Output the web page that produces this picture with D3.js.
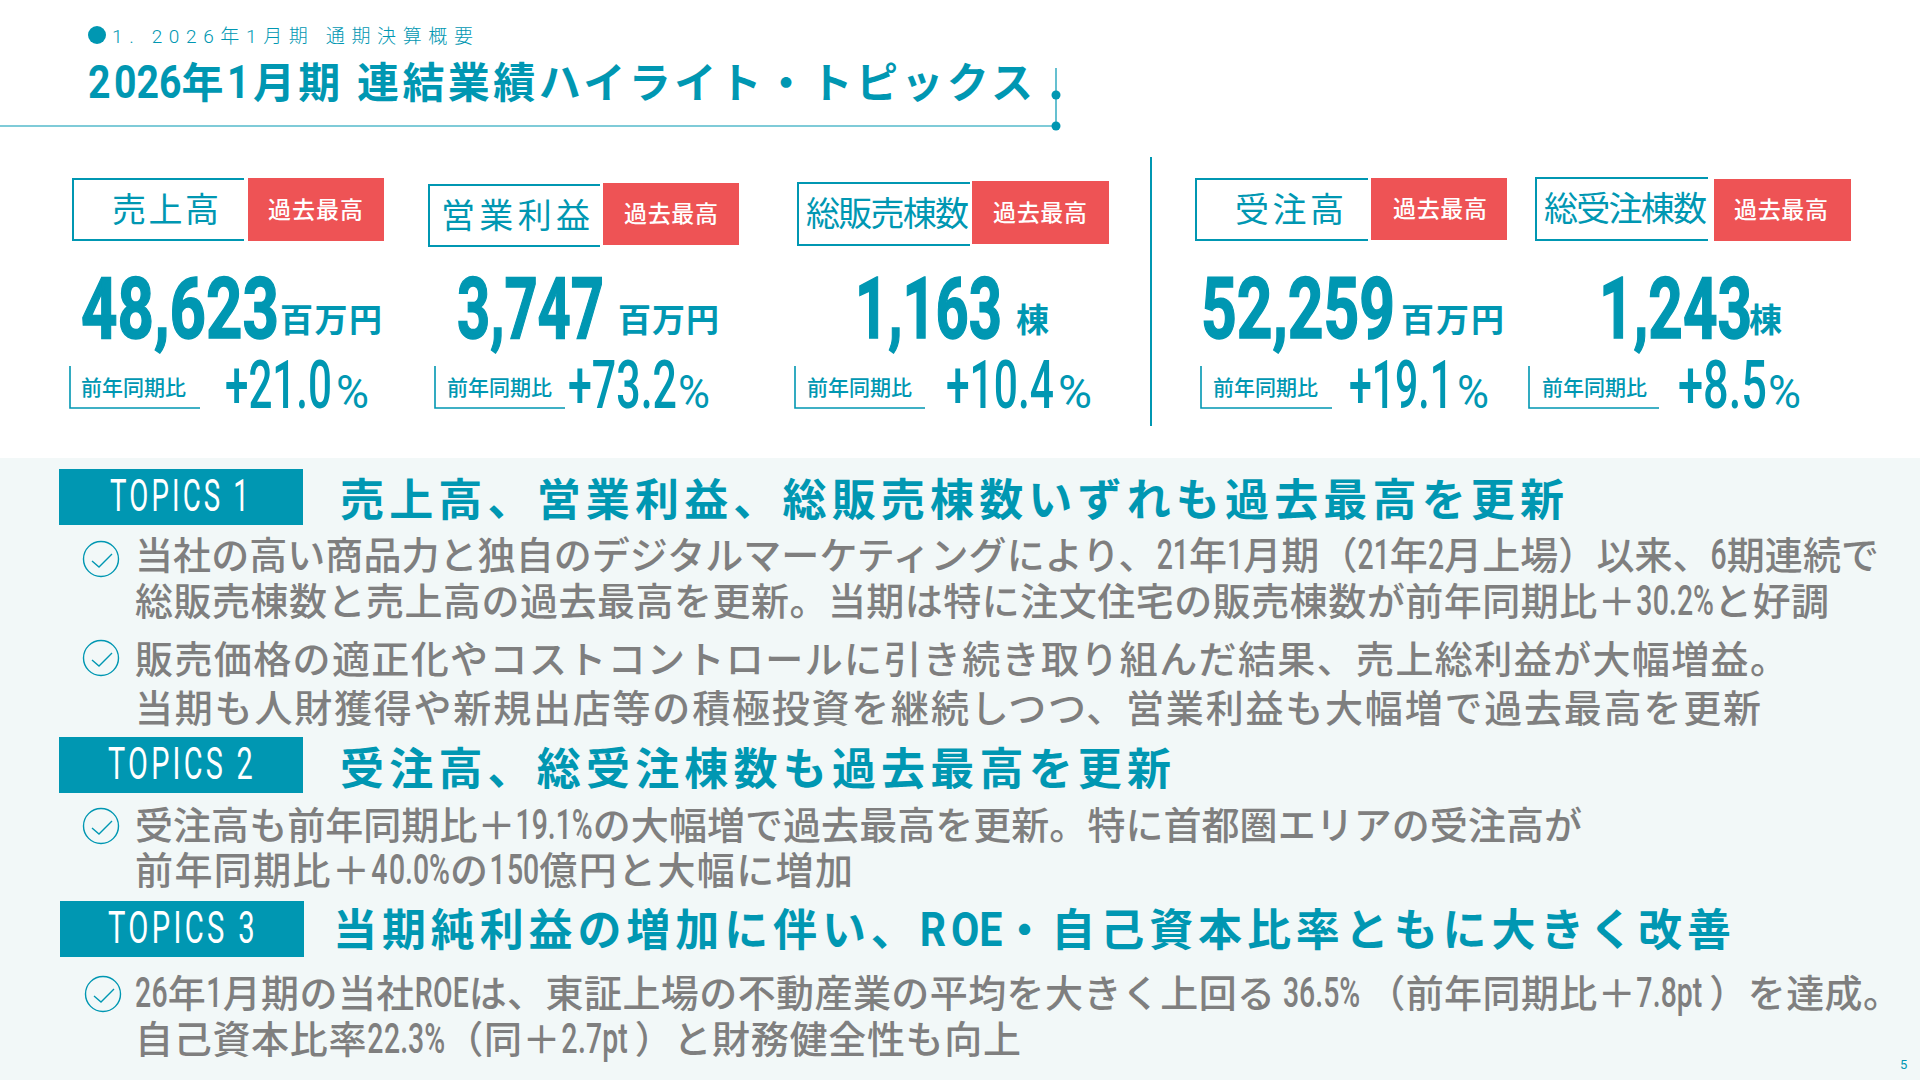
<!DOCTYPE html>
<html>
<head>
<meta charset="utf-8">
<script src="https://cdn.jsdelivr.net/npm/d3@7"></script>
<style>
  body { margin: 0; background: #fff; }
  svg { display: block; }
  text { white-space: pre; }
</style>
</head>
<body>
<svg id="slide" width="1920" height="1080"></svg>
<script>
const teal = '#0097b2';
const red = '#ee5355';
const gray = '#7f7f7f';
const panelColor = '#f2f8f8';
const latin = 'Roboto, "Noto Sans CJK JP", sans-serif';
const cjk = '"Noto Sans CJK JP", sans-serif';

// slide text and values
const sectionLabel = '1. 2026年1月期 通期決算概要';
const slideTitle = '2026年1月期 連結業績ハイライト・トピックス';
const bestLabel = '過去最高';
const changeLabel = '前年同期比';
const kpiLabels = ['売上高', '営業利益', '総販売棟数', '受注高', '総受注棟数'];
const kpiValues = [48623, 3747, 1163, 52259, 1243];
const kpiUnits = ['百万円', '百万円', '棟', '百万円', '棟'];
const kpiChanges = [21.0, 73.2, 10.4, 19.1, 8.5];
const topicNames = ['TOPICS 1', 'TOPICS 2', 'TOPICS 3'];
const topicTitles = [
  '売上高、営業利益、総販売棟数いずれも過去最高を更新',
  '受注高、総受注棟数も過去最高を更新',
  '当期純利益の増加に伴い、ROE・自己資本比率ともに大きく改善'
];
const bodyLines = [
  '当社の高い商品力と独自のデジタルマーケティングにより、21年1月期（21年2月上場）以来、6期連続で',
  '総販売棟数と売上高の過去最高を更新。当期は特に注文住宅の販売棟数が前年同期比＋30.2%と好調',
  '販売価格の適正化やコストコントロールに引き続き取り組んだ結果、売上総利益が大幅増益。',
  '当期も人財獲得や新規出店等の積極投資を継続しつつ、営業利益も大幅増で過去最高を更新',
  '受注高も前年同期比＋19.1%の大幅増で過去最高を更新。特に首都圏エリアの受注高が',
  '前年同期比＋40.0%の150億円と大幅に増加',
  '26年1月期の当社ROEは、東証上場の不動産業の平均を大きく上回る 36.5% （前年同期比＋7.8pt ）を達成。',
  '自己資本比率22.3%（同＋2.7pt ）と財務健全性も向上'
];
const pageNumber = '5';

// where things sit on the slide, one row per card
const cardBoxes = [
  { x0: 73, x1: 244, y0: 179, y1: 240, rx0: 248, rx1: 384, ry0: 178, ry1: 241 },
  { x0: 429, x1: 600, y0: 185, y1: 246, rx0: 603, rx1: 739, ry0: 183, ry1: 245 },
  { x0: 798, x1: 970, y0: 183, y1: 245, rx0: 972, rx1: 1109, ry0: 181, ry1: 244 },
  { x0: 1196, x1: 1368, y0: 179, y1: 240, rx0: 1371, rx1: 1507, ry0: 178, ry1: 240 },
  { x0: 1536, x1: 1708, y0: 178, y1: 240, rx0: 1714, rx1: 1851, ry0: 179, ry1: 241 }
];
const cardText = [
  { lx: 112, lw: 107, bx: 268, bw: 95, nx: 81, nw: 198, ux: 280, uw: 102 },
  { lx: 441, lw: 149, bx: 624, bw: 94, nx: 457, nw: 147, ux: 618, uw: 101 },
  { lx: 806, lw: 163, bx: 993, bw: 94, nx: 855, nw: 147, ux: 1016, uw: 33 },
  { lx: 1235, lw: 109, bx: 1393, bw: 94, nx: 1201, nw: 194, ux: 1401, uw: 103 },
  { lx: 1544, lw: 163, bx: 1734, bw: 94, nx: 1599, nw: 153, ux: 1749, uw: 32 }
];
const changeText = [
  { bx0: 70, bx1: 200, tx: 81, vx: 225, vw: 107, px: 336, pw: 33 },
  { bx0: 435, bx1: 565, tx: 447, vx: 568, vw: 109, px: 678, pw: 32 },
  { bx0: 795, bx1: 925, tx: 807, vx: 946, vw: 108, px: 1058, pw: 34 },
  { bx0: 1201, bx1: 1332, tx: 1213, vx: 1349, vw: 104, px: 1457, pw: 32 },
  { bx0: 1529, bx1: 1659, tx: 1542, vx: 1678, vw: 89, px: 1768, pw: 33 }
];
const topicRows = [
  { x: 59, y: 469, tx: 110, tw: 142, hx: 340, hw: 1224, hy: 516 },
  { x: 59, y: 737, tx: 108, tw: 148, hx: 340, hw: 831, hy: 785 },
  { x: 60, y: 901, tx: 108, tw: 150, hx: 333, hw: 1398, hy: 946 }
];
const bodyRows = [
  { w: 1744, y: 569 },
  { w: 1694, y: 615 },
  { w: 1653, y: 673 },
  { w: 1626, y: 722 },
  { w: 1447, y: 839 },
  { w: 718, y: 884 },
  { w: 1766, y: 1007 },
  { w: 886, y: 1053 }
];
const checkMarks = [[101, 559], [101, 658], [101, 826], [103, 994]];

const formatValue = d3.format(',');
const formatChange = d3.format('+.1f');

const svg = d3.select('#slide');

// text fitted to the width it has in the slide
function addText(parent, str, x, y, size, opts = {}) {
  const t = parent.append('text')
    .attr('x', x)
    .attr('y', y)
    .attr('font-size', size)
    .attr('font-family', opts.family || cjk)
    .attr('font-weight', opts.weight || 400)
    .attr('fill', opts.fill || teal);
  // latin runs are condensed inside the line, the reference font is a narrow one
  if (opts.condense) {
    str.split(/([0-9A-Za-z.,% ]+)/).filter(s => s.length).forEach(run => {
      const span = t.append('tspan').text(run);
      if (/^[0-9A-Za-z.,% ]+$/.test(run)) {
        span.attr('font-family', latin).attr('font-size', size * 1.1);
        const natural = span.node().getComputedTextLength();
        span.attr('textLength', natural * opts.condense).attr('lengthAdjust', 'spacingAndGlyphs');
      }
    });
  } else {
    t.text(str);
  }
  if (opts.width) {
    t.attr('textLength', opts.width)
      .attr('lengthAdjust', opts.squeeze ? 'spacingAndGlyphs' : 'spacing');
  }
  return t;
}

//header
svg.append('circle').attr('cx', 97).attr('cy', 35).attr('r', 9).attr('fill', teal);
addText(svg, sectionLabel, 112, 43, 19, { family: latin, width: 361, weight: 300 });
addText(svg, slideTitle, 88, 98, 42, { weight: 700, width: 945, condense: 0.85 });

svg.append('path')
  .attr('d', d3.line()([[0, 126], [1056, 126], [1056, 68]]))
  .attr('fill', 'none')
  .attr('stroke', teal)
  .attr('stroke-width', 1.2);
svg.selectAll('circle.joint')
  .data([95, 126])
  .enter()
  .append('circle')
    .attr('class', 'joint')
    .attr('cx', 1056)
    .attr('cy', d => d)
    .attr('r', 4.5)
    .attr('fill', teal);

//divider between sales and orders
svg.append('line')
  .attr('x1', 1151).attr('x2', 1151)
  .attr('y1', 157).attr('y2', 426)
  .attr('stroke', teal)
  .attr('stroke-width', 2);

//kpi cards
kpiLabels.forEach((label, i) => {
  const box = cardBoxes[i];
  const pos = cardText[i];
  const ch = changeText[i];
  const g = svg.append('g').attr('class', 'card');

  g.append('path')
    .attr('d', d3.line()([[box.x1, box.y0], [box.x0, box.y0], [box.x0, box.y1], [box.x1, box.y1]]))
    .attr('fill', 'none')
    .attr('stroke', teal)
    .attr('stroke-width', 2);
  g.append('rect')
    .attr('x', box.rx0)
    .attr('y', box.ry0)
    .attr('width', box.rx1 - box.rx0)
    .attr('height', box.ry1 - box.ry0)
    .attr('fill', red);

  addText(g, label, pos.lx, (box.y0 + box.y1) / 2 + 12, 34, { width: pos.lw });
  addText(g, bestLabel, pos.bx, (box.ry0 + box.ry1) / 2 + 8, 23, { fill: '#fff', weight: 500, width: pos.bw });

  addText(g, formatValue(kpiValues[i]), pos.nx, 338, 86, {
    family: latin, weight: 700, width: pos.nw, squeeze: true
  }).attr('stroke', teal).attr('stroke-width', 1.5);
  addText(g, kpiUnits[i], pos.ux, 332, 33, { weight: 700, width: pos.uw });

  g.append('path')
    .attr('d', d3.line()([[ch.bx0, 366], [ch.bx0, 408], [ch.bx1, 408]]))
    .attr('fill', 'none')
    .attr('stroke', teal)
    .attr('stroke-width', 1.6);
  addText(g, changeLabel, ch.tx, 395, 21, { width: 105, weight: 500 });
  addText(g, formatChange(kpiChanges[i]), ch.vx, 408, 66, {
    family: latin, weight: 500, width: ch.vw, squeeze: true
  });
  addText(g, '%', ch.px, 408, 46, { family: latin, width: ch.pw, squeeze: true });
});

//topics panel
svg.append('rect')
  .attr('x', 0).attr('y', 458)
  .attr('width', 1920).attr('height', 622)
  .attr('fill', panelColor);

topicNames.forEach((name, i) => {
  const row = topicRows[i];
  svg.append('rect')
    .attr('x', row.x)
    .attr('y', row.y)
    .attr('width', 244)
    .attr('height', 56)
    .attr('fill', teal);
  addText(svg, name, row.tx, row.y + 42, 44, { family: latin, fill: '#fff', width: row.tw, squeeze: true })
    .style('letter-spacing', '5px');
  addText(svg, topicTitles[i], row.hx, row.hy, 44, { weight: 700, width: row.hw, condense: 0.85 });
});

bodyLines.forEach((line, i) => {
  const row = bodyRows[i];
  addText(svg, line, 135, row.y, 38, { fill: gray, weight: 500, width: row.w, condense: 0.68 });
});

//check icons
const checkPath = d3.line()([[-9, 2], [-2, 8], [11, -5]]);
const checks = svg.selectAll('g.check')
  .data(checkMarks)
  .enter()
  .append('g')
    .attr('class', 'check')
    .attr('transform', d => `translate(${d[0]},${d[1]})`);
checks.append('circle')
  .attr('r', 17.5)
  .attr('fill', 'none')
  .attr('stroke', teal)
  .attr('stroke-width', 1.4);
checks.append('path')
  .attr('d', checkPath)
  .attr('fill', 'none')
  .attr('stroke', teal)
  .attr('stroke-width', 1.4);

addText(svg, pageNumber, 1900, 1069, 13, { family: latin });
</script>
</body>
</html>
